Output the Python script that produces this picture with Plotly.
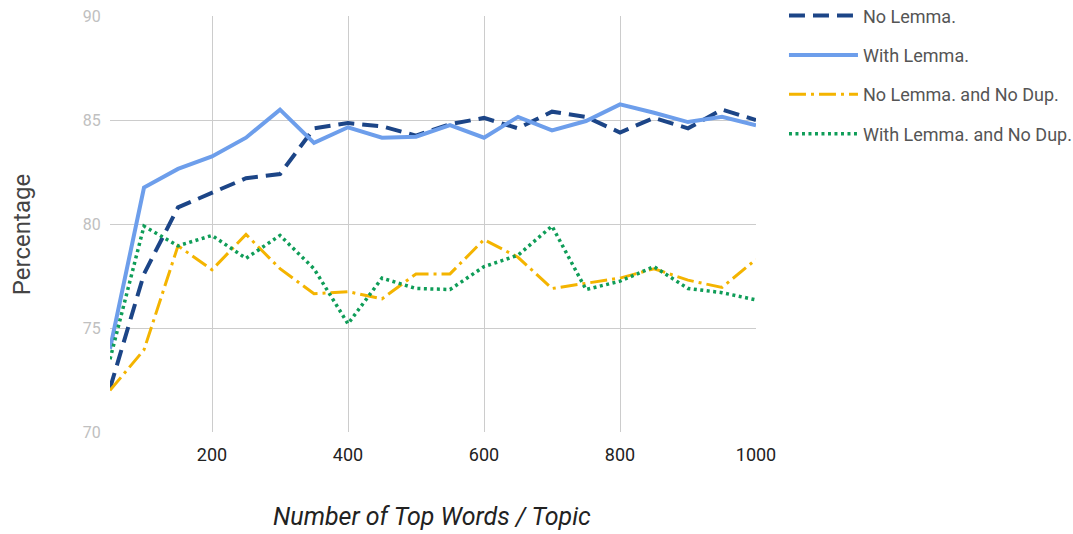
import plotly.graph_objects as go

x_words = [50, 100, 150, 200, 250, 300, 350, 400, 450, 500,
           550, 600, 650, 700, 750, 800, 850, 900, 950, 1000]

no_lemma = [72.1, 77.6, 80.8, 81.5, 82.2, 82.4, 84.6, 84.85, 84.7, 84.25,
            84.8, 85.1, 84.6, 85.4, 85.15, 84.4, 85.1, 84.6, 85.5, 85.0]
with_lemma = [74.0, 81.75, 82.65, 83.25, 84.15, 85.5, 83.9, 84.65, 84.15, 84.2,
              84.75, 84.15, 85.15, 84.5, 84.95, 85.75, 85.35, 84.9, 85.15, 84.75]
no_lemma_nodup = [72.0, 73.95, 78.95, 77.8, 79.5, 77.85, 76.65, 76.75, 76.4, 77.6,
                  77.6, 79.25, 78.4, 76.9, 77.15, 77.4, 77.85, 77.3, 76.95, 78.3]
with_lemma_nodup = [73.5, 79.9, 78.95, 79.45, 78.35, 79.45, 77.85, 75.2, 77.4, 76.9,
                    76.85, 77.95, 78.5, 79.9, 76.85, 77.25, 77.95, 76.9, 76.7, 76.35]

series_names = ["No Lemma.", "With Lemma.", "No Lemma. and No Dup.", "With Lemma. and No Dup."]
x_ticks = [200, 400, 600, 800, 1000]
y_ticks = [70, 75, 80, 85, 90]
x_title = "Number of Top Words / Topic"
y_title = "Percentage"

fig = go.Figure()
styles = [
    (no_lemma, "#1c4587", 4, "16px,8px"),
    (with_lemma, "#6d9eeb", 4, "solid"),
    (no_lemma_nodup, "#f4b400", 3, "17px,5px,3px,5px"),
    (with_lemma_nodup, "#0f9d58", 3.5, "3px,3.5px"),
]
for i, (ys, color, w, dash) in enumerate(styles):
    fig.add_trace(go.Scatter(
        x=x_words, y=ys, mode="lines", name=series_names[i],
        legendgroup=f"g{i}",
        line=dict(color=color, width=w, dash=dash),
    ))

fig.update_layout(
    width=1073, height=534,
    margin=dict(l=110, r=317, t=16, b=102, autoexpand=False),
    plot_bgcolor="white", paper_bgcolor="white",
    font=dict(family="Roboto", color="#444"),
    hovermode=False,
    showlegend=True,
    legend=dict(
        x=1.0433, y=1.045, xanchor="left", yanchor="top",
        font=dict(size=18, color="#555", family="Roboto"),
        tracegroupgap=13, itemwidth=69, bgcolor="rgba(0,0,0,0)",
    ),
    xaxis=dict(
        range=[50, 1000], tickvals=x_ticks, showgrid=True, gridcolor="#cccccc",
        gridwidth=1, zeroline=False, showline=False, automargin=False,
        tickfont=dict(size=18, color="#222"),
        ticks="outside", ticklen=6, tickcolor="rgba(0,0,0,0)",
    ),
    yaxis=dict(
        range=[70, 90], tickvals=y_ticks, showgrid=True, gridcolor="#cccccc",
        gridwidth=1, zeroline=False, showline=False, automargin=False,
        tickfont=dict(size=16, color="#c0c0c0"),
        ticks="outside", ticklen=5, tickcolor="rgba(0,0,0,0)",
    ),
    annotations=[
        dict(text="<i>" + x_title + "</i>", xref="paper", yref="paper",
             x=0.4985, y=-0.204, xanchor="center", yanchor="middle",
             showarrow=False, font=dict(size=25, color="#222", family="Roboto")),
        dict(text=y_title, xref="paper", yref="paper",
             x=-0.136, y=0.4736, xanchor="center", yanchor="middle", textangle=-90,
             showarrow=False, font=dict(size=24, color="#444", family="Roboto")),
    ],
)

fig.write_html(
    "out.html",
    config={"displayModeBar": False},
    post_script="document.body.style.margin='0';document.body.style.overflow='hidden';",
)
